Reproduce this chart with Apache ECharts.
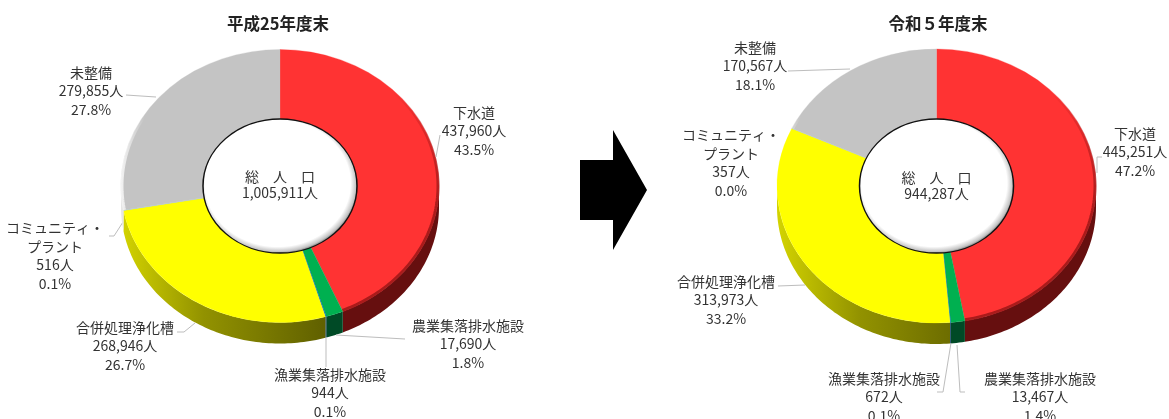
<!DOCTYPE html>
<html>
<head>
<meta charset="utf-8">
<style>html,body{margin:0;padding:0;background:#fff}#c{width:1169px;height:419px}</style>
<script src="https://cdn.jsdelivr.net/npm/echarts@6/dist/echarts.min.js"></script>
</head>
<body>
<div id="c"></div>
<script>
// ---- data ----
const categories = ['下水道','農業集落排水施設','漁業集落排水施設','合併処理浄化槽','コミュニティ・\nプラント','未整備'];
const valuesH25 = [437960,17690,944,268946,516,279855];
const valuesR5  = [445251,13467,672,313973,357,170567];
const percentH25 = ['43.5%','1.8%','0.1%','26.7%','0.1%','27.8%'];
const percentR5  = ['47.2%','1.4%','0.1%','33.2%','0.0%','18.1%'];
const titles = ['平成25年度末','令和５年度末'];
const totalLabel = '総　人　口';
const totals = [1005911,944287];

// ---- styling / layout ----
const faceColors = ['#ff3333','#00b050','#0070c0','#ffff00','#9dc3e6','#c4c4c4'];
const FONT = '14px "Noto Sans CJK JP","Noto Sans",sans-serif';
const TEXT = '#333333';
const pies = [
  {cx:280,cy:186,rx:159,ry:136.5,hx:77,hy:67,depth:21,totalY:185,
   labels:[[474,131],[468,344],[330,393],[125,346],[55,255.5],[91,91]],
   leaders:[[[436,157],[440,135]],[[336,335],[405,339]],[[326,337],[326,367]],[[177,332],[184,332],[195,323]],[[109,236],[114,236],[123,222]],[[126,95],[156,97]]]},
  {cx:936.5,cy:186,rx:159.5,ry:137,hx:77,hy:67,depth:21,totalY:185.5,
   labels:[[1135,152],[1040,397],[884,397],[726,300],[731,162.5],[755,66]],
   leaders:[[[1102,157],[1097,157],[1097,173]],[[965,392],[960,392],[957,345]],[[937,392],[943,392],[951,343]],[[778,286],[805,285]],[[0,0],[0,0]],[[788,71],[850,69]]]}
];

function wallFill(i, p){
  if(i===3){
    return {type:'linear',global:true,x:p.cx-p.rx,y:0,x2:p.cx+p.rx*0.3,y2:0,
      colorStops:[{offset:0,color:'#d4d400'},{offset:0.4,color:'#929200'},{offset:1,color:'#5f5f00'}]};
  }
  return ['#660f0f','#004a26','#00305a','#666600','#d8d800','#e6e6e6'][i];
}
// soft bevel only where the light falls off: lower right of the red slice, left of the grey slice
function rimStroke(i, p){
  if(i===0){
    return {type:'linear',global:true,x:p.cx+p.rx*0.55,y:p.cy-p.ry*0.6,x2:p.cx+p.rx*0.9,y2:p.cy+p.ry*0.2,
      colorStops:[{offset:0,color:'rgba(150,20,20,0)'},{offset:1,color:'rgba(150,20,20,0.8)'}]};
  }
  if(i===5){
    return {type:'linear',global:true,x:p.cx-p.rx,y:0,x2:p.cx-p.rx*0.85,y2:0,
      colorStops:[{offset:0,color:'rgba(245,245,245,0.95)'},{offset:1,color:'rgba(245,245,245,0)'}]};
  }
  return null;
}

function makeRender(pieIdx, values, percents){
  const p = pies[pieIdx];
  const sum = values.reduce((a,b)=>a+b,0);
  const pt = (t,dy,inset)=>[p.cx+(p.rx-(inset||0))*Math.sin(t), p.cy-(p.ry-(inset||0))*Math.cos(t)+(dy||0)];
  return function(params, api){
    const i = params.dataIndex;
    const v = api.value(0);
    let before = 0;
    for(let k=0;k<i;k++) before += values[k];
    const a = before/sum*2*Math.PI, b = (before+v)/sum*2*Math.PI;
    const children = [];
    // side wall: only the part in the lower half of the ellipse
    const wa = Math.max(a,Math.PI/2), wb = Math.min(b,Math.PI*1.5);
    if(wb>wa){
      const n = Math.max(2,Math.ceil((wb-wa)/0.02));
      const up=[],down=[];
      for(let k=0;k<=n;k++){const t=wa+(wb-wa)*k/n; up.push(pt(t)); down.unshift(pt(t,p.depth));}
      children.push({type:'polygon',shape:{points:up.concat(down)},style:{fill:wallFill(i,p)}});
    }
    // top face: a circular sector squashed into an ellipse
    children.push({type:'group',x:p.cx,y:p.cy,scaleY:p.ry/p.rx,children:[
      {type:'sector',shape:{cx:0,cy:0,r:p.rx,r0:0,startAngle:a-Math.PI/2,endAngle:b-Math.PI/2,clockwise:true},
       style:{fill:faceColors[i],stroke:faceColors[i],lineWidth:0.3}}]});
    // soft rim
    const rs = rimStroke(i,p);
    if(rs){
      const n2 = Math.max(2,Math.ceil((b-a)/0.02));
      const rim=[]; for(let k=0;k<=n2;k++){rim.push(pt(a+(b-a)*k/n2,0,1));}
      children.push({type:'polyline',shape:{points:rim},style:{stroke:rs,lineWidth:3,fill:null}});
    }
    // leader line and label
    const lead = p.leaders[i];
    if(lead[0][0]>0){
      children.push({type:'polyline',shape:{points:lead},style:{stroke:'#bdbdbd',lineWidth:1,fill:null}});
    }
    const lab = p.labels[i];
    children.push({type:'text',z2:5,style:{
      text:categories[i]+'\n'+values[i].toLocaleString('en-US')+'人\n'+percents[i],
      x:lab[0],y:lab[1],align:'center',verticalAlign:'middle',font:FONT,lineHeight:18.5,fill:TEXT}});
    // hole and total, drawn with the last slice
    if(i===values.length-1){
      children.push({type:'group',x:p.cx,y:p.cy,scaleY:p.hy/p.hx,children:[
        {type:'circle',shape:{cx:0,cy:0,r:p.hx},style:{
          fill:{type:'radial',x:0.485,y:0.48,r:0.52,colorStops:[{offset:0,color:'#ffffff'},{offset:0.9,color:'#ffffff'},{offset:0.97,color:'#c4c4c4'},{offset:1,color:'#777777'}]},
          stroke:'#111111',lineWidth:1.5}}]});
      children.push({type:'text',style:{text:totalLabel+'\n'+totals[pieIdx].toLocaleString('en-US')+'人',
        x:p.cx,y:p.totalY,align:'center',verticalAlign:'middle',font:FONT,lineHeight:16,fill:TEXT}});
    }
    return {type:'group',children};
  };
}

const chart = echarts.init(document.getElementById('c'),null,{renderer:'canvas'});
chart.setOption({
  animation:false,
  backgroundColor:'#ffffff',
  title:[
    {text:titles[0],left:273,top:10,textAlign:'center',textStyle:{fontSize:16.5,fontWeight:'bold',color:'#222',fontFamily:'"Noto Sans CJK JP"'}},
    {text:titles[1],left:933,top:10,textAlign:'center',textStyle:{fontSize:16.5,fontWeight:'bold',color:'#222',fontFamily:'"Noto Sans CJK JP"'}}
  ],
  graphic:[{type:'polygon',shape:{points:[[580,160],[613,160],[613,130],[647,190],[613,250],[613,220],[580,220]]},style:{fill:'#000'}}],
  series:[
    {type:'custom',name:titles[0],coordinateSystem:'none',silent:true,renderItem:makeRender(0,valuesH25,percentH25),
     encode:{value:0},data:valuesH25.map((v,i)=>({name:categories[i],value:[v]}))},
    {type:'custom',name:titles[1],coordinateSystem:'none',silent:true,renderItem:makeRender(1,valuesR5,percentR5),
     encode:{value:0},data:valuesR5.map((v,i)=>({name:categories[i],value:[v]}))}
  ]
});
</script>
</body>
</html>
